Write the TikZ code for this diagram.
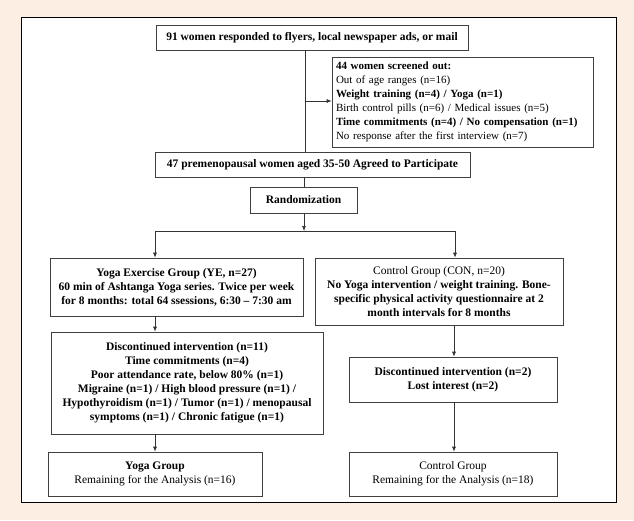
\documentclass[tikz,border=0pt]{standalone}
\usepackage{fontspec}
\setmainfont{Liberation Serif}
\usetikzlibrary{arrows.meta}
\definecolor{peach}{HTML}{FDEEE4}
\tikzset{
  box/.style={draw=black!75, line width=0.6pt, fill=white, inner sep=1pt, align=center, font=\fontsize{11.5}{14}\selectfont},
  conn/.style={draw=black!80, line width=0.7pt},
  arr/.style={conn, -{Latex[length=5pt,width=4pt]}}
}
\begin{document}
\begin{tikzpicture}[x=1pt,y=-1pt]
\fill[peach] (0,0) rectangle (634,520);
\useasboundingbox (0,0) rectangle (634,520);
\draw[fill=white, line width=1pt] (21,17) rectangle (616,502);

\node[box, minimum width=312pt, minimum height=25pt] (b1) at (312,37.5) {\textbf{91 women responded to flyers, local newspaper ads, or mail}};
\node[box, minimum width=261pt, minimum height=90pt, align=left, text width=253pt, inner xsep=4pt, font=\fontsize{11}{14}\selectfont] (scr) at (462.5,102) {\textbf{44 women screened out:}\\
Out of age ranges (n=16)\\
\textbf{Weight training (n=4) / Yoga (n=1)}\\
Birth control pills (n=6) / Medical issues (n=5)\\
\textbf{Time commitments (n=4) / No compensation (n=1)}\\
No response after the first interview (n=7)};
\node[box, minimum width=315pt, minimum height=25pt] (b47) at (312.5,164.5) {\textbf{47 premenopausal women aged 35-50 Agreed to Participate}};
\node[box, minimum width=107pt, minimum height=26pt] (rnd) at (303.5,200) {\textbf{Randomization}};

\node[box, minimum width=253pt, minimum height=58pt] (ye) at (176.5,287) {\textbf{Yoga Exercise Group (YE, n=27)}\\
\textbf{60 min of Ashtanga Yoga series. Twice per week}\\
\textbf{for 8 months: total 64 ssessions, 6:30 -- 7:30 am}};
\node[box, minimum width=248pt, minimum height=67pt] (con) at (439,291.5) {Control Group (CON, n=20)\\
\textbf{No Yoga intervention / weight training. Bone-}\\
\textbf{specific physical activity questionnaire at 2}\\
\textbf{month intervals for 8 months}};

\node[box, minimum width=272pt, minimum height=102pt] (dye) at (187,383) {\textbf{Discontinued intervention (n=11)}\\
\textbf{Time commitments (n=4)}\\
\textbf{Poor attendance rate, below 80\% (n=1)}\\
\textbf{Migraine (n=1) / High blood pressure (n=1) /}\\
\textbf{Hypothyroidism (n=1) / Tumor (n=1) / menopausal}\\
\textbf{symptoms (n=1) / Chronic fatigue (n=1)}};
\node[box, minimum width=208pt, minimum height=45pt] (dcon) at (453,379.5) {\textbf{Discontinued intervention (n=2)}\\
\textbf{Lost interest (n=2)}};

\node[box, minimum width=214pt, minimum height=44pt] (yg) at (155,474) {\textbf{Yoga Group}\\
Remaining for the Analysis (n=16)};
\node[box, minimum width=208pt, minimum height=44pt] (cg) at (453,474) {Control Group\\
Remaining for the Analysis (n=18)};

\coordinate (sp) at (305,101);
\coordinate (bl) at (155,231);
\coordinate (br) at (455,231);
\coordinate (bm) at (304,231);

\draw[conn] (b1.south -| sp) -- (b47.north -| sp);
\draw[arr] (sp) -- (scr.west |- sp);
\draw[conn] (b47.south -| bm) -- (rnd.north -| bm);
\draw[arr] (rnd.south -| bm) -- (bm);
\draw[conn] (bl) -- (br);
\draw[arr] (bl) -- (ye.north -| bl);
\draw[arr] (br) -- (con.north -| br);
\draw[arr] (ye.south -| bl) -- (dye.north -| bl);
\draw[arr] (dye.south -| bl) -- (yg.north -| bl);
\draw[arr] (con.south -| 454,0) -- (dcon.north -| 454,0);
\draw[arr] (dcon.south -| 454,0) -- (cg.north -| 454,0);
\end{tikzpicture}
\end{document}
